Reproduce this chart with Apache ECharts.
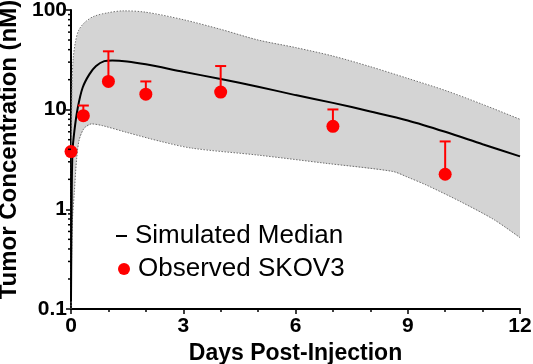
<!DOCTYPE html>
<html>
<head>
<meta charset="utf-8">
<script src="https://cdn.jsdelivr.net/npm/echarts@6/dist/echarts.min.js"></script>
<style>
  html, body { margin: 0; padding: 0; background: #fff; }
  #chart { width: 533px; height: 364px; }
</style>
</head>
<body>
<div id="chart"></div>
<script>
// simulated median curve
const medianDays = [0, 0.02, 0.04, 0.09, 0.18, 0.31, 0.49, 0.67, 0.89, 1.1, 1.5, 2, 3, 4, 5, 6, 7, 8, 9, 10, 11, 12];
const medianVals = [0.12, 1.5, 3.8, 6.1, 10.4, 16.6, 22.6, 27.4, 30.7, 31.2, 30.5, 28.5, 24, 20.3, 17, 14, 11.7, 9.6, 7.8, 6, 4.5, 3.4];

// upper edge of the simulated interval
const upperDays = [0, 0.01, 0.027, 0.06, 0.12, 0.2, 0.35, 0.6, 1, 1.4, 2, 3, 4, 5, 6, 7, 8, 9, 10, 11, 12];
const upperVals = [0.15, 3, 18, 33, 48, 62, 74, 86, 94, 98, 95, 80, 64, 50, 42, 34.5, 27, 20.6, 15.6, 11.3, 8.0];

// lower edge of the simulated interval
const lowerDays = [0, 0.02, 0.04, 0.09, 0.15, 0.22, 0.35, 0.55, 0.85, 1.5, 2.4, 3.25, 5, 6.8, 8.6, 9, 9.5, 10.4, 11.3, 12];
const lowerVals = [0.1, 0.4, 0.8, 1.5, 3.2, 5, 6.5, 7.2, 6.9, 5.9, 4.8, 4.1, 3.5, 2.9, 2.4, 2.1, 1.75, 1.2, 0.79, 0.52];

// observed SKOV3 (mean and upper error)
const obsDays = [0, 0.33, 1, 2, 4, 7, 10];
const obsVals = [3.8, 8.7, 19.2, 14.3, 15, 6.8, 2.25];
const obsUpper = [3.8, 11.0, 38.5, 19.2, 27.4, 10.05, 4.8];

// minor ticks for the log axis
const minorTickVals = [0.2, 0.3, 0.4, 0.5, 0.6, 0.7, 0.8, 0.9, 2, 3, 4, 5, 6, 7, 8, 9, 20, 30, 40, 50, 60, 70, 80, 90];

const FONT = "'Liberation Sans', Arial, sans-serif";

const zip = (xs, ys) => xs.map((x, i) => [x, ys[i]]);

const chart = echarts.init(document.getElementById("chart"));
chart.setOption({
  animation: false,
  grid: { left: 71, right: 13, top: 10, bottom: 55, outerBoundsMode: "none", containLabel: false },
  legend: [
    {
      data: [{ name: "Simulated Median", icon: "rect" }],
      left: 116,
      top: 223,
      padding: 0,
      itemWidth: 11,
      itemHeight: 2,
      selectedMode: false,
      itemStyle: { color: "#000" },
      textStyle: { fontFamily: FONT, fontSize: 26, color: "#000", padding: [0, 0, 0, 3] }
    },
    {
      data: [{ name: "Observed SKOV3", icon: "circle" }],
      left: 118,
      top: 256,
      padding: 0,
      itemWidth: 12,
      itemHeight: 12,
      selectedMode: false,
      textStyle: { fontFamily: FONT, fontSize: 26, color: "#000", padding: [0, 0, 0, 3] }
    }
  ],
  xAxis: {
    type: "value",
    min: 0,
    max: 12,
    interval: 3,
    name: "Days Post-Injection",
    nameLocation: "middle",
    nameGap: 25,
    nameTextStyle: { fontFamily: FONT, fontSize: 23, fontWeight: "bold", color: "#000" },
    axisLine: { lineStyle: { color: "#000", width: 2 } },
    axisTick: { show: true, length: 5, lineStyle: { color: "#000", width: 1.5 } },
    minorTick: { show: true, splitNumber: 3, length: 3, lineStyle: { color: "#000", width: 1.5 } },
    axisLabel: { fontFamily: FONT, fontSize: 21, fontWeight: "bold", color: "#000", margin: 7 },
    splitLine: { show: false }
  },
  yAxis: {
    type: "log",
    logBase: 10,
    min: 0.1,
    max: 100,
    name: "Tumor Concentration (nM)",
    nameLocation: "middle",
    nameGap: 48,
    nameTextStyle: { fontFamily: FONT, fontSize: 24, fontWeight: "bold", color: "#000", padding: [0, 0, 0, 20] },
    axisLine: { show: true, lineStyle: { color: "#000", width: 2 } },
    axisTick: { show: true, length: 5, lineStyle: { color: "#000", width: 1.5 } },
    axisLabel: { fontFamily: FONT, fontSize: 21, fontWeight: "bold", color: "#000", margin: 4 },
    splitLine: { show: false }
  },
  series: [
    {
      // shaded interval
      type: "custom",
      name: "band",
      silent: true,
      z: 1,
      clip: true,
      data: [[0, 1]],
      renderItem: function (params, api) {
        const pts = upperDays.map((d, i) => api.coord([d, upperVals[i]]));
        for (let i = lowerDays.length - 1; i >= 0; i--) {
          pts.push(api.coord([lowerDays[i], lowerVals[i]]));
        }
        return { type: "polygon", shape: { points: pts }, style: { fill: "#d4d4d4" } };
      }
    },
    {
      type: "line",
      name: "upper",
      silent: true,
      z: 2,
      symbol: "none",
      smooth: 0.3,
      data: zip(upperDays, upperVals),
      lineStyle: { color: "#6e6e6e", width: 1, type: [1.5, 1.5] }
    },
    {
      type: "line",
      name: "lower",
      silent: true,
      z: 2,
      symbol: "none",
      smooth: 0.3,
      data: zip(lowerDays, lowerVals),
      lineStyle: { color: "#6e6e6e", width: 1, type: [1.5, 1.5] }
    },
    {
      type: "line",
      name: "Simulated Median",
      z: 3,
      symbol: "none",
      smooth: 0.3,
      color: "#000",
      data: zip(medianDays, medianVals),
      lineStyle: { color: "#000", width: 2 }
    },
    {
      // upper error bars
      type: "custom",
      name: "errors",
      silent: true,
      z: 4,
      data: obsDays.map((d, i) => [d, obsVals[i], obsUpper[i]]),
      renderItem: function (params, api) {
        const base = api.coord([api.value(0), api.value(1)]);
        const top = api.coord([api.value(0), api.value(2)]);
        const style = { stroke: "#ff0000", lineWidth: 2 };
        if (base[1] - top[1] < 1) return null;
        return {
          type: "group",
          children: [
            { type: "line", shape: { x1: base[0], y1: base[1], x2: top[0], y2: top[1] }, style: style },
            { type: "line", shape: { x1: top[0] - 5.5, y1: top[1], x2: top[0] + 5.5, y2: top[1] }, style: style }
          ]
        };
      }
    },
    {
      type: "scatter",
      name: "Observed SKOV3",
      z: 5,
      symbol: "circle",
      symbolSize: 13,
      itemStyle: { color: "#ff0000", opacity: 1 },
      data: zip(obsDays, obsVals)
    },
    {
      // log minor ticks on the y axis
      type: "custom",
      name: "minor",
      silent: true,
      z: 6,
      clip: false,
      data: minorTickVals.map(v => [0, v]),
      renderItem: function (params, api) {
        const p = api.coord([0, api.value(1)]);
        return {
          type: "line",
          shape: { x1: p[0] - 3, y1: p[1], x2: p[0], y2: p[1] },
          style: { stroke: "#000", lineWidth: 1.5 }
        };
      }
    }
  ]
});
</script>
</body>
</html>
